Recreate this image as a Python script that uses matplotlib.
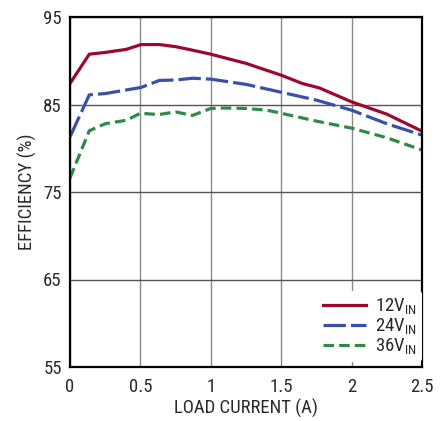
import matplotlib
matplotlib.use("Agg")
import matplotlib.pyplot as plt

# load current (A) and efficiency (%)
i_12 = [0, 0.137, 0.25, 0.40, 0.505, 0.635, 0.754, 0.872, 1.0, 1.25, 1.5, 1.65, 1.77, 2.0, 2.25, 2.5]
eff_12 = [87.4, 90.75, 90.95, 91.3, 91.85, 91.85, 91.6, 91.2, 90.75, 89.7, 88.35, 87.4, 86.9, 85.3, 83.9, 81.95]

i_24 = [0, 0.137, 0.25, 0.505, 0.635, 0.75, 0.87, 1.0, 1.25, 1.5, 1.75, 2.0, 2.25, 2.5]
eff_24 = [81.3, 86.1, 86.25, 86.95, 87.75, 87.8, 88.0, 87.9, 87.3, 86.4, 85.5, 84.35, 82.8, 81.5]

i_36 = [0, 0.137, 0.25, 0.40, 0.50, 0.63, 0.75, 0.87, 1.0, 1.1, 1.25, 1.4, 1.5, 1.75, 2.0, 2.25, 2.5]
eff_36 = [76.6, 82.0, 82.8, 83.2, 84.0, 83.85, 84.15, 83.75, 84.55, 84.6, 84.55, 84.35, 84.0, 83.1, 82.3, 81.2, 79.8]

x_ticks = [0, 0.5, 1, 1.5, 2, 2.5]
x_labels = ["0", "0.5", "1", "1.5", "2", "2.5"]
y_ticks = [55, 65, 75, 85, 95]

fam = "Roboto Condensed"
plt.rcParams["font.family"] = [fam, "DejaVu Sans"]
plt.rcParams["mathtext.fontset"] = "custom"
plt.rcParams["mathtext.rm"] = fam
plt.rcParams["mathtext.it"] = fam
txt = "#2a2a2a"

fig = plt.figure(figsize=(4.45, 4.21), dpi=100)
ax = fig.add_axes([70 / 445, 54 / 421, 352 / 445, 350 / 421])

ax.plot(i_12, eff_12, color="#9b0a2e", lw=2.3, label="12V$_{\\mathrm{IN}}$")
ax.plot(i_24, eff_24, color="#3a4fa8", lw=2.3, dashes=(7.0, 1.6), label="24V$_{\\mathrm{IN}}$")
ax.plot(i_36, eff_36, color="#2e8b46", lw=2.3, dashes=(3.3, 1.6), label="36V$_{\\mathrm{IN}}$")

ax.set_xlim(0, 2.5)
ax.set_ylim(55, 95)
ax.set_xticks(x_ticks)
ax.set_xticklabels(x_labels)
ax.set_yticks(y_ticks)
ax.tick_params(length=0, labelsize=13.5, colors=txt)
ax.tick_params(axis="x", pad=8)
ax.tick_params(axis="y", pad=6)
ax.xaxis.grid(True, color="#8a8a8a", lw=1.0)
ax.yaxis.grid(True, color="#555555", lw=1.0)
for s in ax.spines.values():
    s.set_linewidth(1.6)
    s.set_color("black")

ax.set_xlabel("LOAD CURRENT (A)", fontsize=13.5, color=txt, labelpad=2)
ax.set_ylabel("EFFICIENCY (%)", fontsize=13.5, color=txt, labelpad=4)

leg = ax.legend(loc="upper left", bbox_to_anchor=(0.675, 0.245), frameon=True, fontsize=13.5,
                handlelength=2.3, handletextpad=0.5, labelspacing=0.0, borderpad=0.3,
                labelcolor=txt)
leg.get_frame().set_edgecolor("none")
leg.get_frame().set_facecolor("white")
leg.get_frame().set_alpha(1)

fig.savefig("out.png", dpi=100)
